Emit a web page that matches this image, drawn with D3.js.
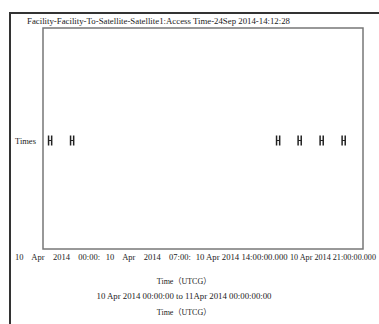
<!DOCTYPE html>
<html><head><meta charset="utf-8">
<script src="https://cdn.jsdelivr.net/npm/d3@7"></script>
<style>
html,body{margin:0;padding:0;background:#fff;}
svg{display:block;font-family:"Liberation Serif","DejaVu Serif","Noto Sans CJK SC",serif;}
</style></head>
<body>
<svg id="c" width="379" height="324"></svg>
<script>
// ---- data ----
const titleText = "Facility-Facility-To-Satellite-Satellite1:Access Time-24Sep 2014-14:12:28";
const yCategory = "Times";
const domainStart = "2014-04-10T00:00:00Z";
const domainEnd = "2014-04-11T00:00:00Z";
// access intervals (UTC)
const accessStart = ["2014-04-10T00:25:00Z","2014-04-10T02:04:00Z","2014-04-10T17:31:00Z","2014-04-10T19:08:00Z","2014-04-10T20:47:00Z","2014-04-10T22:26:00Z"];
const accessEnd   = ["2014-04-10T00:39:00Z","2014-04-10T02:18:00Z","2014-04-10T17:45:00Z","2014-04-10T19:22:00Z","2014-04-10T21:01:00Z","2014-04-10T22:40:00Z"];
const tickTimes = ["2014-04-10T00:00:00Z","2014-04-10T07:00:00Z","2014-04-10T14:00:00Z","2014-04-10T21:00:00Z"];
const tickLabels = ["10 Apr 2014 00:00:","10 Apr 2014 07:00:","10 Apr 2014 14:00:00.000","10 Apr 2014 21:00:00.000"];
const axisTitle = "Time（UTCG）";
const rangeText = "10 Apr 2014 00:00:00  to 11Apr 2014  00:00:00:00";

// ---- layout ----
const svg = d3.select("#c");
const P = {l:43, r:363, t:28, b:249};
const ink = "#222";

// outer frame
svg.append("line").attr("x1",10).attr("x2",379).attr("y1",13).attr("y2",13).attr("stroke","#333").attr("stroke-width",2);
svg.append("line").attr("x1",10).attr("x2",10).attr("y1",12).attr("y2",324).attr("stroke","#333").attr("stroke-width",2);

// title
svg.append("text").attr("x",27).attr("y",24).attr("font-size",9).attr("fill",ink)
  .attr("textLength",263).attr("lengthAdjust","spacingAndGlyphs").text(titleText);

// plot box
svg.append("rect").attr("x",P.l).attr("y",P.t).attr("width",P.r-P.l).attr("height",P.b-P.t)
  .attr("fill","#fff").attr("stroke","#777").attr("stroke-width",1.5);

const x = d3.scaleUtc().domain([new Date(domainStart), new Date(domainEnd)]).range([P.l, P.r]);
const y = d3.scaleBand().domain([yCategory]).range([P.t, P.b]).paddingInner(0).paddingOuter(0.5);
const yc = y(yCategory) + y.bandwidth()/2 + 2;

// y label
svg.append("text").attr("x",15).attr("y",yc+3).attr("font-size",8.5).attr("fill",ink).text(yCategory);

// access marks (H shapes)
const hh = 5;
const g = svg.append("g");
accessStart.forEach((s,i)=>{
  const x0 = x(new Date(s)), x1 = x(new Date(accessEnd[i]));
  g.append("line").attr("x1",x0).attr("x2",x0).attr("y1",yc-hh).attr("y2",yc+hh).attr("stroke",ink).attr("stroke-width",1.5);
  g.append("line").attr("x1",x1).attr("x2",x1).attr("y1",yc-hh).attr("y2",yc+hh).attr("stroke",ink).attr("stroke-width",1.5);
  g.append("line").attr("x1",x0).attr("x2",x1).attr("y1",yc).attr("y2",yc).attr("stroke",ink).attr("stroke-width",1);
});

// x tick labels (the first two are word-justified, like the source)
const labelW = [85,85,92,86];
let prevRight = 14;
tickTimes.forEach((t,i)=>{
  const cx = x(new Date(t)) + 12;
  const w = labelW[i];
  let left = Math.min(Math.max(cx - w/2, prevRight + 1), 376 - w);
  prevRight = left + w;
  const tx = svg.append("text").attr("x",left).attr("y",260).attr("font-size",8.5).attr("fill",ink).text(tickLabels[i]);
  const nat = tx.node().getComputedTextLength();
  const words = tickLabels[i].split(" ").length;
  if (i < 2) {
    tx.attr("word-spacing", Math.max(0,(w - nat)/(words-1)));
  } else {
    tx.attr("textLength", w).attr("lengthAdjust","spacingAndGlyphs");
  }
});

const mid = (P.l+P.r)/2 - 19;
svg.append("text").attr("x",mid).attr("y",284).attr("text-anchor","middle").attr("font-size",8).attr("fill",ink).text(axisTitle);
svg.append("text").attr("x",mid).attr("y",299).attr("text-anchor","middle").attr("font-size",8).attr("fill",ink)
  .attr("textLength",175).attr("lengthAdjust","spacingAndGlyphs").text(rangeText);
svg.append("text").attr("x",mid).attr("y",315).attr("text-anchor","middle").attr("font-size",8).attr("fill",ink).text(axisTitle);
</script>
</body></html>
